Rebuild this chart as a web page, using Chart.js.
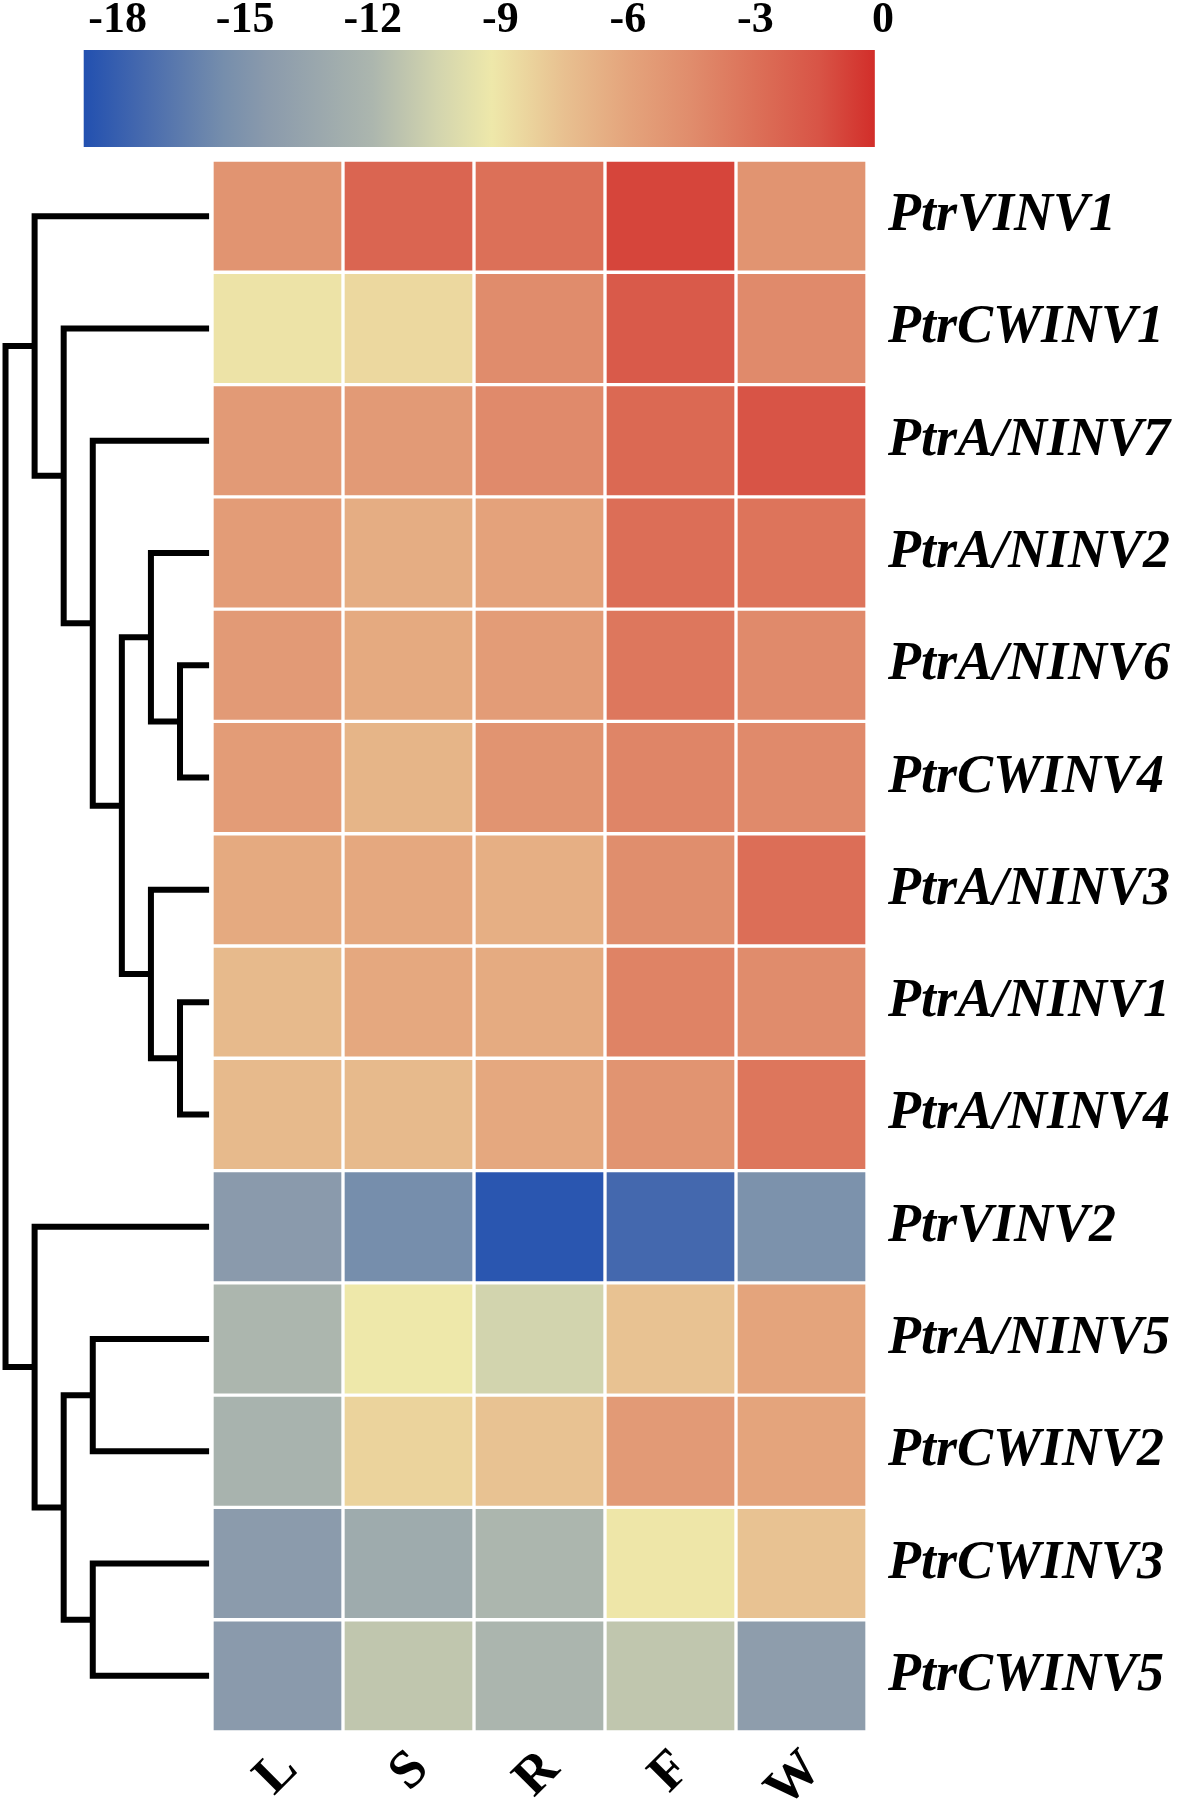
<!DOCTYPE html>
<html>
<head>
<meta charset="utf-8">
<script src="https://cdn.jsdelivr.net/npm/chart.js@4.4.0/dist/chart.umd.min.js"></script>
<style>
  body { margin: 0; background: #fff; }
  #page { position: relative; width: 1180px; height: 1810px; }
  canvas { position: absolute; }
  #colourbar { left: 0; top: 0; }
  #dendrogram { left: 0; top: 160px; }
  #heatmap { left: 212px; top: 160px; }
</style>
</head>
<body>
<div id="page">
  <canvas id="colourbar" width="1180" height="160"></canvas>
  <canvas id="dendrogram" width="212" height="1572"></canvas>
  <canvas id="heatmap" width="968" height="1650"></canvas>
</div>
<script>
// rows, top to bottom
const genes = ['PtrVINV1', 'PtrCWINV1', 'PtrA/NINV7', 'PtrA/NINV2', 'PtrA/NINV6', 'PtrCWINV4',
    'PtrA/NINV3', 'PtrA/NINV1', 'PtrA/NINV4', 'PtrVINV2', 'PtrA/NINV5', 'PtrCWINV2',
    'PtrCWINV3', 'PtrCWINV5']
const tissues = ['L', 'S', 'R', 'F', 'W']

// one value per gene, same order as genes
const valuesL = [-5.0, -9.0, -5.4, -5.5, -5.4, -5.5, -6.3, -7.2, -7.2, -14.5, -12.0, -12.3, -14.4, -14.5]
const valuesS = [-2.4, -8.5, -5.4, -6.5, -6.3, -6.9, -6.2, -6.2, -7.2, -15.5, -9.2, -8.3, -13.0, -11.2]
const valuesR = [-3.0, -4.5, -4.4, -5.9, -5.5, -5.0, -6.6, -6.4, -6.2, -18.5, -10.5, -7.6, -12.0, -12.1]
const valuesF = [-1.0, -1.8, -2.6, -2.9, -3.4, -4.1, -4.6, -4.0, -5.0, -17.5, -7.6, -5.4, -9.1, -11.2]
const valuesW = [-5.0, -4.4, -1.5, -3.2, -4.4, -4.4, -2.9, -4.5, -3.3, -15.2, -6.0, -6.0, -7.6, -14.2]

// colour scale
const colourbarTicks = [-18, -15, -12, -9, -6, -3, 0]
const colourbarRange = [-18.8, -0.2]
const colourStops = [-18.8, -17.5, -15.5, -14.5, -12, -10.5, -9.2, -7.5, -6, -4.5, -3, -1.5, -0.2]
const stopColours = ['#2250b0', '#4468ae', '#768eac', '#8a9aac', '#acb6ae', '#d2d4ae', '#eee8aa',
    '#e8c090', '#e4a47c', '#e08c6c', '#dc7058', '#d85446', '#d22e2a']

// dendrogram merges: leaves are 0..13, merge k makes node 14 + k
const mergeLeft = [4, 7, 3, 6, 16, 2, 1, 0, 10, 12, 22, 9, 21]
const mergeRight = [5, 8, 14, 15, 17, 18, 19, 20, 11, 13, 23, 24, 25]
const mergeHeight = [1, 1, 2, 2, 3, 4, 5, 6, 4, 4, 5, 6, 7]

Chart.defaults.font.family = "'Liberation Serif', 'Times New Roman', serif"
Chart.defaults.color = '#000'

const hexToRgb = (h) => [1, 3, 5].map(i => parseInt(h.substr(i, 2), 16))

const colourFor = (v) => {
    if (v <= colourStops[0]) return stopColours[0]
    for (let i = 1; i < colourStops.length; i++) {
        if (v <= colourStops[i]) {
            const t = (v - colourStops[i - 1]) / (colourStops[i] - colourStops[i - 1])
            const a = hexToRgb(stopColours[i - 1])
            const b = hexToRgb(stopColours[i])
            const c = a.map((x, k) => Math.round(x + (b[k] - x) * t))
            return `rgb(${c[0]},${c[1]},${c[2]})`
        }
    }
    return stopColours[stopColours.length - 1]
}

// stop tick labels from pushing the plot area in
const noEdgePadding = (s) => {
    s.paddingTop = 0
    s.paddingBottom = 0
    s.paddingLeft = 0
    s.paddingRight = 0
}

// colour bar
new Chart(document.getElementById('colourbar'), {
    type: 'bar',
    data: {
        labels: [''],
        datasets: [{
            data: [colourbarRange],
            borderWidth: 0,
            categoryPercentage: 1,
            barPercentage: 1,
            backgroundColor: (context) => {
                const chart = context.chart
                if (!chart.chartArea) return stopColours[0]
                const xs = chart.scales.x
                const first = colourStops[0]
                const last = colourStops[colourStops.length - 1]
                const g = chart.ctx.createLinearGradient(xs.getPixelForValue(first), 0, xs.getPixelForValue(last), 0)
                colourStops.forEach((v, i) => g.addColorStop((v - first) / (last - first), stopColours[i]))
                return g
            }
        }]
    },
    options: {
        indexAxis: 'y',
        responsive: false,
        animation: false,
        layout: { padding: { left: 83.6, right: 288.5, top: 0, bottom: 13 } },
        plugins: { legend: { display: false }, tooltip: { enabled: false } },
        scales: {
            x: {
                type: 'linear',
                position: 'top',
                min: -18.8,
                max: 0.2,
                afterBuildTicks: (s) => { s.ticks = colourbarTicks.map(v => ({ value: v })) },
                grid: { display: false, drawTicks: false },
                border: { display: false },
                ticks: { autoSkip: false, padding: 3, font: { size: 44, weight: 'bold' } },
                afterFit: (s) => { s.height = 50; noEdgePadding(s) }
            },
            y: { display: false }
        }
    }
})

// dendrogram, drawn with the same row scale as the heatmap
const nodeRow = genes.map((g, i) => i + 0.5)
const nodeHeight = genes.map(() => 0)
const links = []
mergeLeft.forEach((l, k) => {
    const r = mergeRight[k]
    const h = mergeHeight[k]
    links.push([
        { x: nodeHeight[l], y: nodeRow[l] },
        { x: h, y: nodeRow[l] },
        { x: h, y: nodeRow[r] },
        { x: nodeHeight[r], y: nodeRow[r] }
    ])
    nodeRow.push((nodeRow[l] + nodeRow[r]) / 2)
    nodeHeight.push(h)
})

new Chart(document.getElementById('dendrogram'), {
    type: 'scatter',
    data: {
        datasets: links.map(pts => ({
            data: pts,
            showLine: true,
            borderColor: '#000',
            borderWidth: 6,
            borderJoinStyle: 'miter',
            borderCapStyle: 'butt',
            pointRadius: 0,
            clip: false
        }))
    },
    options: {
        responsive: false,
        animation: false,
        layout: { padding: 0 },
        plugins: { legend: { display: false }, tooltip: { enabled: false } },
        scales: {
            x: { type: 'linear', min: -0.1, max: 7.19, reverse: true, display: false },
            y: { type: 'linear', min: 0, max: 14, reverse: true, display: false }
        }
    }
})

// heatmap: one floating-bar dataset per gene row
const columns = [valuesL, valuesS, valuesR, valuesF, valuesW]

new Chart(document.getElementById('heatmap'), {
    type: 'bar',
    data: {
        labels: tissues,
        datasets: genes.map((gene, i) => ({
            label: gene,
            data: tissues.map(() => [i, i + 1]),
            backgroundColor: columns.map(col => colourFor(col[i])),
            borderColor: '#fff',
            borderWidth: 2,
            borderSkipped: false,
            categoryPercentage: 1,
            barPercentage: 1,
            grouped: false
        }))
    },
    options: {
        responsive: false,
        animation: false,
        layout: { padding: 0 },
        plugins: { legend: { display: false }, tooltip: { enabled: false } },
        scales: {
            x: {
                grid: { display: false, drawTicks: false },
                border: { display: false },
                ticks: {
                    minRotation: 45,
                    maxRotation: 45,
                    padding: 6,
                    labelOffset: 12,
                    font: { size: 54, weight: 'bold' }
                },
                afterFit: (s) => { s.height = 78; noEdgePadding(s) }
            },
            y: {
                type: 'linear',
                position: 'right',
                min: 0,
                max: 14,
                reverse: true,
                afterBuildTicks: (s) => { s.ticks = genes.map((g, i) => ({ value: i + 0.5 })) },
                grid: { display: false, drawTicks: false },
                border: { display: false },
                ticks: {
                    autoSkip: false,
                    padding: 21,
                    callback: (value, index) => genes[index],
                    font: { size: 54, weight: 'bold', style: 'italic' }
                },
                afterFit: (s) => { s.width = 313; noEdgePadding(s) }
            }
        }
    }
})
</script>
</body>
</html>
